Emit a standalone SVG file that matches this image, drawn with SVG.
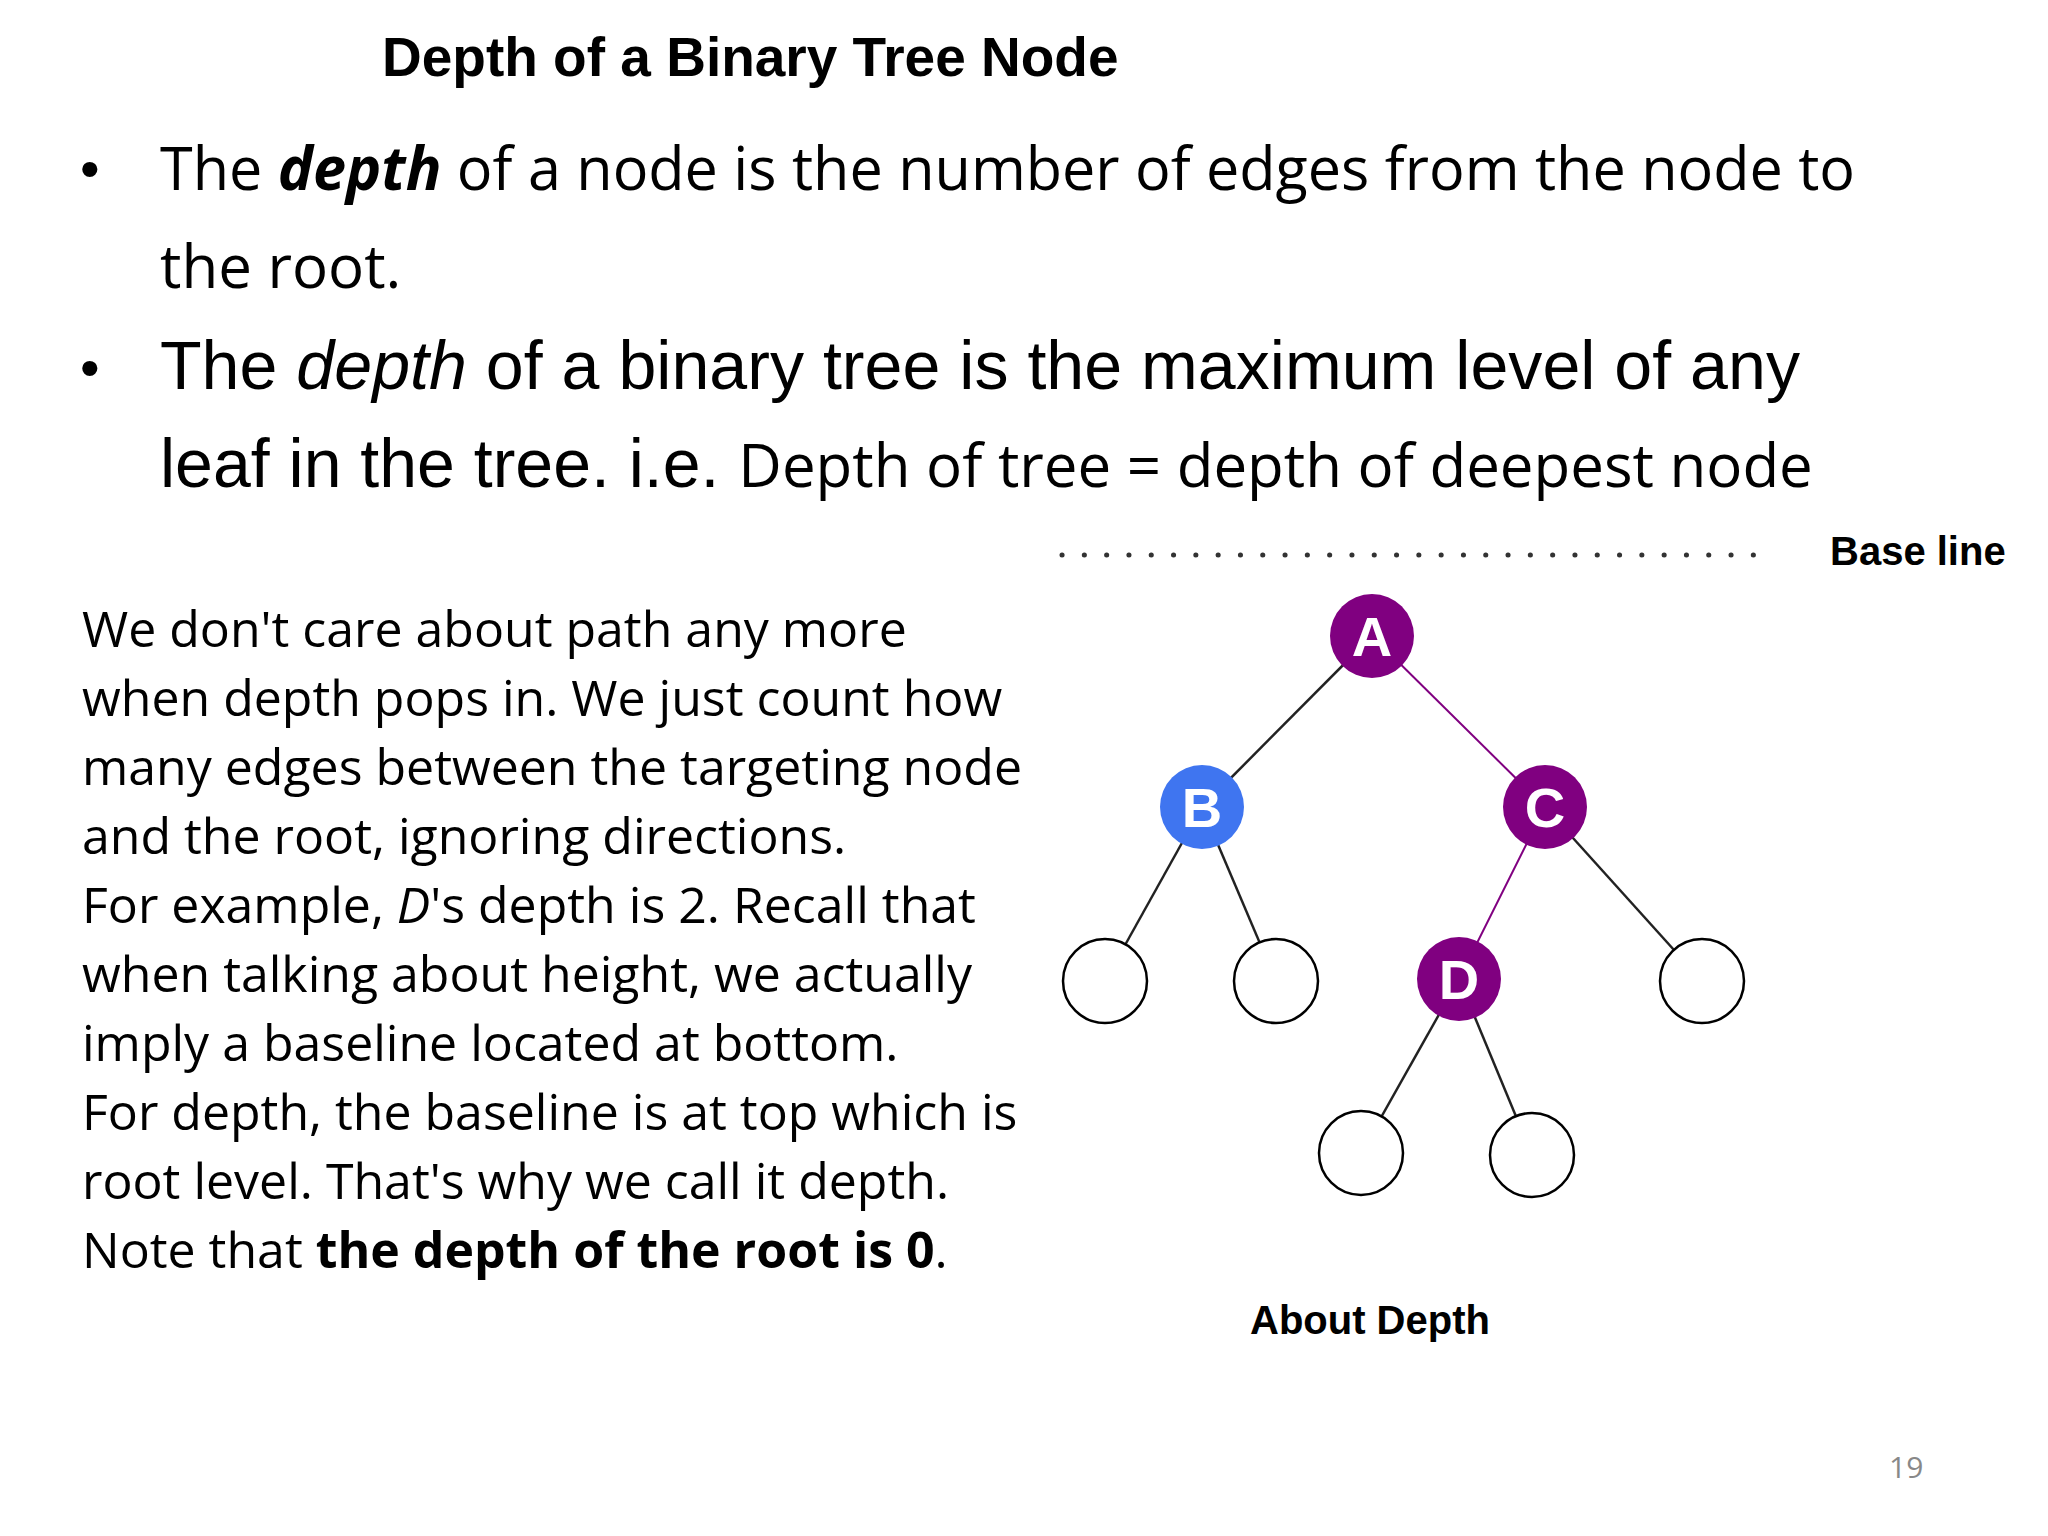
<svg xmlns="http://www.w3.org/2000/svg" width="2048" height="1536" viewBox="0 0 2048 1536">
<style>
.os{font-family:"Open Sans","DejaVu Sans",sans-serif;fill:#000;white-space:pre}
.ar{font-family:"Liberation Sans",Arial,sans-serif;fill:#000}
.lbl{font-family:"Liberation Sans",Arial,sans-serif;font-weight:bold;font-size:56px;fill:#fff;text-anchor:middle}
.leaf{fill:#fff;stroke:#000;stroke-width:2.5}
.e{stroke:#222;stroke-width:2.5}
</style>
<rect width="2048" height="1536" fill="#fff"/>
<text class="ar" x="382" y="76" font-size="55" font-weight="bold">Depth of a Binary Tree Node</text>
<text class="ar" x="80" y="188" font-size="56">•</text>
<text class="os" x="160" y="190" font-size="60" textLength="1695" lengthAdjust="spacingAndGlyphs">The <tspan font-weight="bold" font-style="italic">depth</tspan> of a node is the number of edges from the node to</text>
<text class="os" x="160" y="288" font-size="60">the root.</text>
<text class="ar" x="80" y="387" font-size="56">•</text>
<text class="ar" x="160" y="389" font-size="68" textLength="1640" lengthAdjust="spacingAndGlyphs">The <tspan font-style="italic">depth</tspan> of a binary tree is the maximum level of any</text>
<text class="ar" x="160" y="487" font-size="68">leaf in the tree. i.e. <tspan class="os" font-size="60">Depth of tree = depth of deepest node</tspan></text>
<g class="os" font-size="50">
<text x="82" y="647">We don't care about path any more</text>
<text x="82" y="716">when depth pops in. We just count how</text>
<text x="82" y="785">many edges between the targeting node</text>
<text x="82" y="854">and the root, ignoring directions.</text>
<text x="82" y="923">For  example, <tspan font-style="italic">D</tspan>'s depth is 2. Recall that</text>
<text x="82" y="992">when talking about height, we actually</text>
<text x="82" y="1061">imply a baseline located at bottom.</text>
<text x="82" y="1130">For depth, the baseline is at top which is</text>
<text x="82" y="1199"> root level. That's why we call it depth.</text>
<text x="82" y="1268">Note that <tspan font-weight="bold">the depth of the root is 0</tspan>.</text>
</g>
<line x1="1062" y1="555" x2="1774" y2="555" stroke="#333" stroke-width="5" stroke-dasharray="0.1 22.2" stroke-linecap="round"/>
<text class="ar" x="1830" y="565" font-size="40" font-weight="bold" fill="#222">Base line</text>
<g transform="translate(-14,-7)">
<g id="connectors">
<line class="e" x1="1386" y1="643" x2="1216" y2="814"/>
<line x1="1386" y1="643" x2="1559" y2="814" stroke="#800080" stroke-width="2"/>
<line class="e" x1="1216" y1="814" x2="1119" y2="988"/>
<line class="e" x1="1216" y1="814" x2="1290" y2="988"/>
<line x1="1559" y1="814" x2="1473" y2="986" stroke="#800080" stroke-width="2"/>
<line class="e" x1="1559" y1="814" x2="1716" y2="988"/>
<line class="e" x1="1473" y1="986" x2="1375" y2="1160"/>
<line class="e" x1="1473" y1="986" x2="1546" y2="1162"/>
</g>
<g id="A"><circle cx="1386" cy="643" r="42" fill="#800080"/><text class="lbl" x="1386" y="663">A</text></g>
<g id="B"><circle cx="1216" cy="814" r="42" fill="#3f75f0"/><text class="lbl" x="1216" y="834">B</text></g>
<g id="C"><circle cx="1559" cy="814" r="42" fill="#800080"/><text class="lbl" x="1559" y="834">C</text></g>
<g id="D"><circle cx="1473" cy="986" r="42" fill="#800080"/><text class="lbl" x="1473" y="1006">D</text></g>
<g id="L1"><circle class="leaf" cx="1119" cy="988" r="42"/></g>
<g id="L2"><circle class="leaf" cx="1290" cy="988" r="42"/></g>
<g id="L3"><circle class="leaf" cx="1716" cy="988" r="42"/></g>
<g id="L4"><circle class="leaf" cx="1375" cy="1160" r="42"/></g>
<g id="L5"><circle class="leaf" cx="1546" cy="1162" r="42"/></g>
</g>
<text class="ar" x="1250" y="1334" font-size="40" font-weight="bold" fill="#222">About Depth</text>
<text class="os" x="1889" y="1478" font-size="30" style="fill:#888">19</text>
</svg>
